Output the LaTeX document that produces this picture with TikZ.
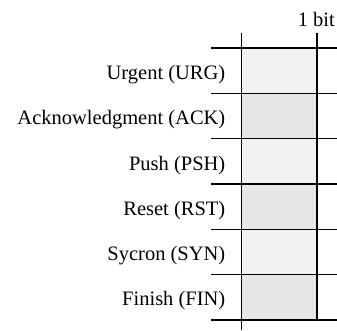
\documentclass[tikz,border=0pt]{standalone}
\usepackage{fontspec}
\setmainfont{Liberation Serif}
\definecolor{cellA}{HTML}{F2F2F2}
\definecolor{cellB}{HTML}{E6E6E6}
\begin{document}
\begin{tikzpicture}[x=1pt,y=-1pt,
  rule/.style={draw=black,line width=1.2pt},
  flag/.style={anchor=base east,inner sep=0pt,font=\fontsize{20.5}{24}\selectfont}]
\useasboundingbox (0,0) rectangle (337,330);
% flag cells, alternating shades
\foreach \i/\c in {0/cellA,1/cellB,2/cellA,3/cellB,4/cellA,5/cellB}
  \fill[\c] (241.5,{48+45.33*\i}) rectangle (317,{48+45.33*(\i+1)});
% horizontal rules between rows
\foreach \i in {0,...,6}
  \draw[rule] (211,{48+45.33*\i}) -- (337,{48+45.33*\i});
% column borders
\draw[rule] (241.5,33) -- (241.5,330);
\draw[rule] (317,33) -- (317,320);
% labels
\node[flag] (urg) at (225.5,79.5) {Urgent (URG)};
\node[flag] (ack) at (225.5,124.7) {Acknowledgment (ACK)};
\node[flag] (psh) at (225.5,170) {Push (PSH)};
\node[flag] (rst) at (225.5,215.2) {Reset (RST)};
\node[flag] (syn) at (225.5,260.5) {Sycron (SYN)};
\node[flag] (fin) at (225.5,305.7) {Finish (FIN)};
\node[flag] (bit) at (335,26) {1 bit};
\end{tikzpicture}
\end{document}
